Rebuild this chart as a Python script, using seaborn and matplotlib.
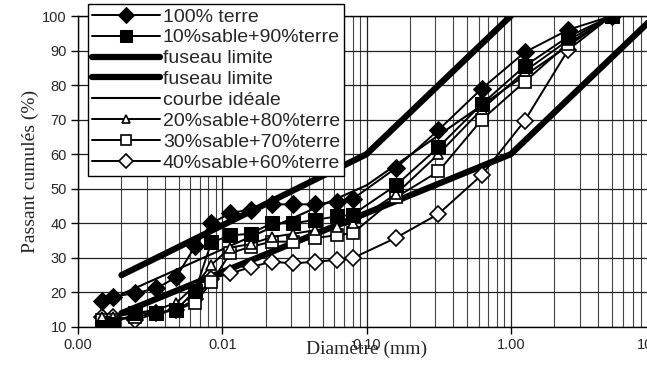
import matplotlib
matplotlib.use("Agg")
import matplotlib.pyplot as plt
import matplotlib.ticker as mticker
import seaborn as sns
import numpy as np

# ---- data ----
diam = [0.00146, 0.00175, 0.0025, 0.0035, 0.0048, 0.0065, 0.0084, 0.0114, 0.0157,
        0.022, 0.031, 0.044, 0.062, 0.08, 0.16, 0.315, 0.63, 1.25, 2.5, 5.0]
terre100 = [17.5, 18.8, 19.8, 21.2, 24.4, 33.5, 40.0, 43.0, 44.0, 45.5, 45.5, 45.5,
            46.3, 47.0, 56.0, 67.0, 79.0, 89.5, 96.0, 100.0]
sable10 = [10.0, 11.0, 14.0, 14.0, 15.0, 20.5, 34.5, 36.5, 37.0, 40.0, 40.0, 41.0,
           42.0, 42.5, 51.0, 62.0, 74.5, 85.5, 94.0, 100.0]
sable20 = [13.0, 13.0, 14.0, 15.0, 17.0, 22.0, 28.0, 33.0, 34.0, 36.0, 37.0, 38.0,
           39.0, 40.0, 48.5, 60.0, 73.0, 84.0, 93.0, 100.0]
sable30 = [12.0, 12.0, 13.0, 14.0, 15.0, 17.0, 23.0, 31.4, 33.2, 34.7, 34.7, 35.7,
           36.6, 37.1, 47.5, 55.0, 70.0, 81.0, 92.0, 100.0]
sable40 = [13.0, 13.0, 12.0, 14.0, 15.0, 18.0, 24.0, 25.5, 27.3, 28.9, 28.4, 28.9,
           29.4, 29.9, 35.8, 42.7, 54.0, 69.7, 90.2, 100.0]
fus_sup_x = [0.002, 0.1, 1.0]
fus_sup_y = [25.0, 60.0, 100.0]
fus_inf_x = [0.002, 1.0, 10.0]
fus_inf_y = [14.0, 60.0, 100.0]
ideal_x = [0.002, 0.1, 1.0, 5.0]
ideal_y = [19.5, 51.0, 80.0, 100.0]

xticks = [0.001, 0.01, 0.1, 1.0, 10.0]
xtick_labels = ["0.00", "0.01", "0.10", "1.00", "10.00"]
yticks = [10, 20, 30, 40, 50, 60, 70, 80, 90, 100]

sns.set_style("white")
plt.rcParams['font.family'] = ['Liberation Sans', 'DejaVu Sans']

W, H = 647, 369
fig = plt.figure(figsize=(W / 100, H / 100), dpi=100)
ax = fig.add_axes([78 / W, 1 - 327 / H, (655 - 78) / W, (327 - 16) / H])

lw = 1.4
def series(x, y, label, z, **kw):
    sns.lineplot(x=x, y=y, ax=ax, label=label, color='black', estimator=None,
                 sort=False, zorder=z, **kw)

series(diam, terre100, "100% terre", 8, marker='D', markersize=9, linewidth=lw,
       markerfacecolor='black', markeredgecolor='black')
series(diam, sable10, "10%sable+90%terre", 9, marker='s', markersize=10, linewidth=lw,
       markerfacecolor='black', markeredgecolor='black')
series(fus_sup_x, fus_sup_y, "fuseau limite", 3, linewidth=4.5)
series(fus_inf_x, fus_inf_y, "fuseau limite", 3, linewidth=4.5)
series(ideal_x, ideal_y, "courbe idéale", 3, linewidth=1.5)
series(diam, sable20, "20%sable+80%terre", 6, marker='^', markersize=7, linewidth=lw,
       markerfacecolor='white', markeredgecolor='black', markeredgewidth=1.2)
series(diam, sable30, "30%sable+70%terre", 5, marker='s', markersize=9, linewidth=lw,
       markerfacecolor='white', markeredgecolor='black', markeredgewidth=1.2)
series(diam, sable40, "40%sable+60%terre", 4, marker='D', markersize=8, linewidth=lw,
       markerfacecolor='white', markeredgecolor='black', markeredgewidth=1.2)

ax.set_xscale('log')
ax.set_xlim(0.001, 10)
ax.set_ylim(10, 100)
ax.set_xticks(xticks)
ax.set_xticklabels(xtick_labels)
ax.xaxis.set_minor_locator(mticker.LogLocator(base=10, subs=np.arange(2, 10)))
ax.xaxis.set_minor_formatter(mticker.NullFormatter())
ax.set_yticks(yticks)
ax.tick_params(axis='both', which='major', labelsize=10.5, length=5, width=1,
               direction='out', color='black', left=True, bottom=True, pad=3)
ax.tick_params(axis='x', which='minor', length=0)
ax.grid(True, which='major', axis='both', color='#222222', linewidth=0.9)
ax.grid(True, which='minor', axis='x', color='#444444', linewidth=0.8)
ax.set_axisbelow(True)
for s in ['left', 'bottom', 'top', 'right']:
    ax.spines[s].set_color('black')
    ax.spines[s].set_linewidth(1.0)

ax.set_ylabel("Passant cumulés (%)", family='Liberation Serif', fontsize=14, labelpad=2)
ax.set_xlabel("Diamètre (mm)", family='Liberation Serif', fontsize=14, labelpad=-8)

leg = ax.legend(loc='upper left', bbox_to_anchor=(88 / W, 1 - 4 / H),
                bbox_transform=fig.transFigure, borderaxespad=0, frameon=True,
                fancybox=False, framealpha=1, edgecolor='black', fontsize=14,
                handlelength=3.5, handletextpad=0.15, labelspacing=0.17,
                borderpad=0.2, markerscale=0.85)
leg.get_frame().set_linewidth(1.0)
leg.set_zorder(10)

fig.savefig("out.png", dpi=100)
